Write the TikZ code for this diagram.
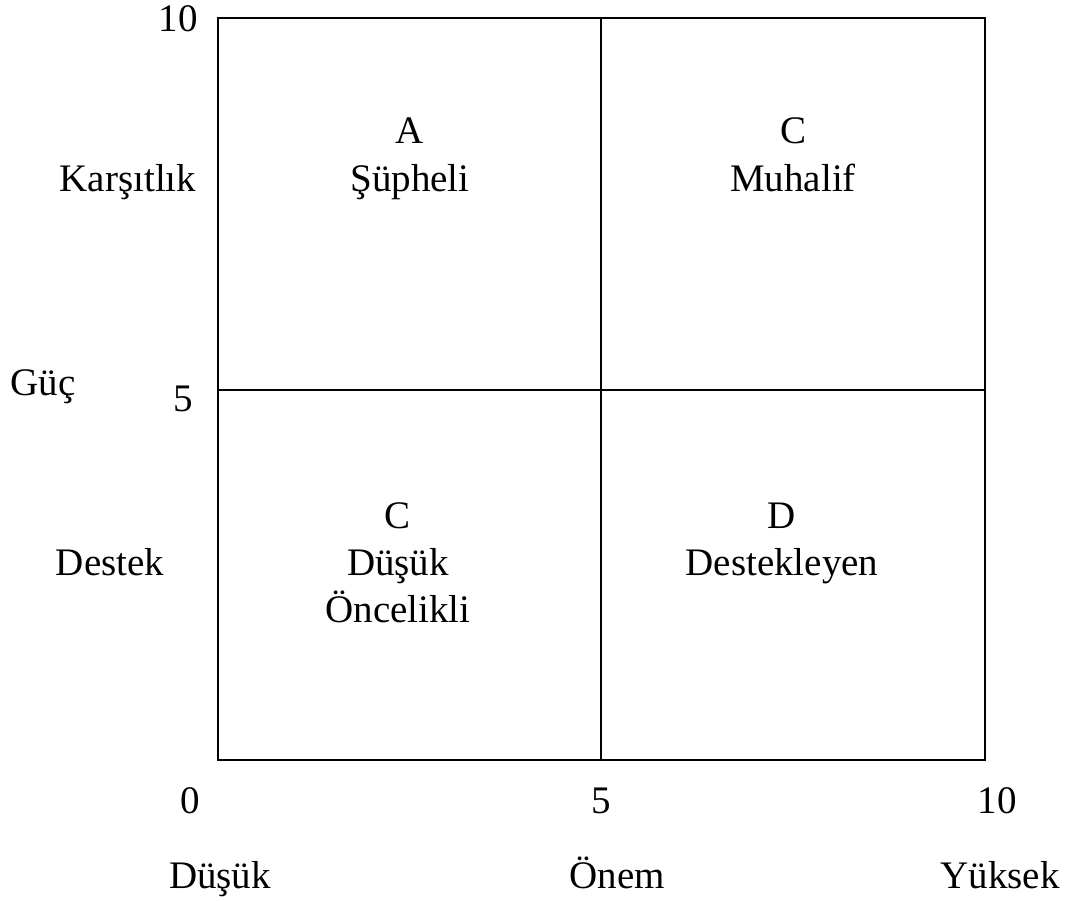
\documentclass[tikz,border=0pt]{standalone}
\usepackage{fontspec}
\setmainfont{Liberation Serif}
\begin{document}
\begin{tikzpicture}[x=1pt,y=-1pt,
  lbl/.style={anchor=base,inner sep=0pt,font=\fontsize{39}{46}\selectfont},
  frame/.style={draw=black,line width=1.3pt}]
\useasboundingbox (0,0) rectangle (1068,901);
\coordinate (tl) at (218,18);
\coordinate (br) at (985,760);
\draw[frame] (tl) rectangle (br);
\coordinate (mt) at (601,18);
\coordinate (mb) at (601,760);
\coordinate (ml) at (218,390);
\coordinate (mr) at (985,390);
\draw[frame] (mt) -- (mb);
\draw[frame] (ml) -- (mr);
% left axis
\node[lbl] (y10) at (178,32) {10};
\node[lbl] (kar) at (128,192) {Karşıtlık};
\node[lbl] (guc) at (43,395) {Güç};
\node[lbl] (y5) at (183,411) {5};
\node[lbl] (des) at (110,575) {Destek};
% quadrants
\node[lbl] (qa1) at (410,144) {A};
\node[lbl] (qa2) at (410,192) {Şüpheli};
\node[lbl] (qc1) at (793,144) {C};
\node[lbl] (qc2) at (793,192) {Muhalif};
\node[lbl] (ql1) at (398,528) {C};
\node[lbl] (ql2) at (398,575) {Düşük};
\node[lbl] (ql3) at (398,622) {Öncelikli};
\node[lbl] (qd1) at (782,528) {D};
\node[lbl] (qd2) at (782,575) {Destekleyen};
% bottom axis
\node[lbl] (x0) at (190,813) {0};
\node[lbl] (x5) at (601,813) {5};
\node[lbl] (x10) at (997,813) {10};
\node[lbl] (dus) at (220,888) {Düşük};
\node[lbl] (onem) at (617,888) {Önem};
\node[lbl] (yuk) at (1000,888) {Yüksek};
\end{tikzpicture}
\end{document}
